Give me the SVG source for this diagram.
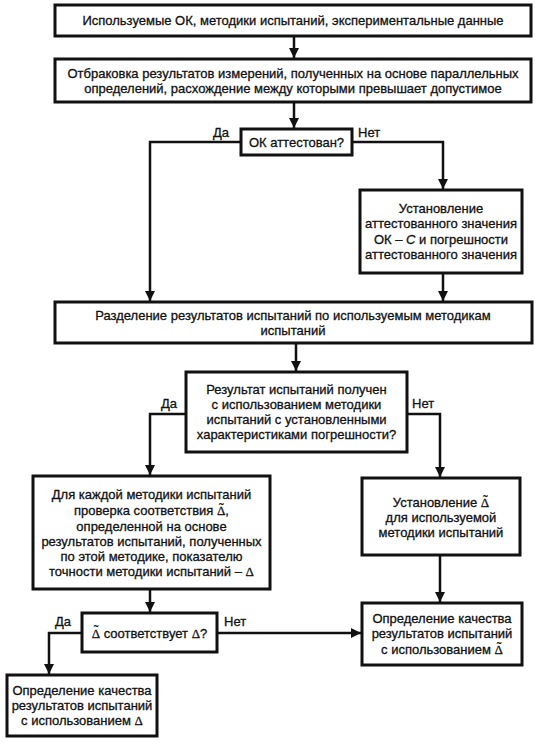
<svg xmlns="http://www.w3.org/2000/svg" width="535" height="742" viewBox="0 0 535 742">
<defs>
<style>
.box{fill:#fff;stroke:#111;stroke-width:3}
.t{font-family:"Liberation Sans",Arial,sans-serif;font-size:13px;fill:#111;stroke:#111;stroke-width:0.3;text-anchor:middle}
.lb{font-family:"Liberation Sans",Arial,sans-serif;font-size:13px;fill:#111;stroke:#111;stroke-width:0.3}
.d{font-family:"Liberation Serif","Times New Roman",serif}
.tl{font-family:"Liberation Serif","Times New Roman",serif;font-size:14px}
.c{fill:none;stroke:#111;stroke-width:2.5}
</style>
<marker id="ah" viewBox="0 0 10 10" refX="10" refY="5" markerWidth="4" markerHeight="4" orient="auto" markerUnits="strokeWidth">
<path d="M0,0 L10,5 L0,10 z" fill="#111"/>
</marker>
</defs>
<rect width="535" height="742" fill="#fff"/>
<g id="connectors">
<line class="c" x1="294" y1="36" x2="294" y2="58" marker-end="url(#ah)"/>
<line class="c" x1="294" y1="102" x2="294" y2="128" marker-end="url(#ah)"/>
<polyline class="c" points="241,142 150,142 150,301" marker-end="url(#ah)"/>
<polyline class="c" points="352,142 443,142 443,189" marker-end="url(#ah)"/>
<line class="c" x1="443" y1="273" x2="443" y2="301" marker-end="url(#ah)"/>
<line class="c" x1="296" y1="343" x2="296" y2="371" marker-end="url(#ah)"/>
<polyline class="c" points="186,414 150,414 150,475" marker-end="url(#ah)"/>
<polyline class="c" points="407,414 440,414 440,477" marker-end="url(#ah)"/>
<line class="c" x1="440" y1="555" x2="440" y2="602" marker-end="url(#ah)"/>
<line class="c" x1="150" y1="589" x2="150" y2="612" marker-end="url(#ah)"/>
<line class="c" x1="217" y1="633" x2="361" y2="633" marker-end="url(#ah)"/>
<polyline class="c" points="82,633 49,633 49,674" marker-end="url(#ah)"/>
<text class="lb" x="213" y="137">Да</text>
<text class="lb" x="358" y="137">Нет</text>
<text class="lb" x="161" y="408">Да</text>
<text class="lb" x="412" y="408">Нет</text>
<text class="lb" x="55" y="626">Да</text>
<text class="lb" x="224" y="626">Нет</text>
</g>
<g id="n1">
<rect class="box" x="55" y="5" width="476" height="31"/>
<text class="t" x="293" y="25">Используемые ОК, методики испытаний, экспериментальные данные</text>
</g>
<g id="n2">
<rect class="box" x="55" y="59" width="476" height="43"/>
<text class="t" x="293" y="77.5">Отбраковка результатов измерений,  полученных на основе параллельных</text>
<text class="t" x="293" y="92.5">определений, расхождение между которыми превышает допустимое</text>
</g>
<g id="n3">
<rect class="box" x="241" y="129" width="111" height="26"/>
<text class="t" x="296.5" y="146.5">ОК аттестован?</text>
</g>
<g id="n4">
<rect class="box" x="360" y="190" width="162" height="83"/>
<text class="t" x="441" y="212.5">Установление</text>
<text class="t" x="441" y="228">аттестованного значения</text>
<text class="t" x="441" y="243.5">ОК – <tspan font-style="italic">C</tspan> и погрешности</text>
<text class="t" x="441" y="259">аттестованного значения</text>
</g>
<g id="n5">
<rect class="box" x="55" y="302" width="477" height="41"/>
<text class="t" x="293" y="319.5">Разделение результатов испытаний по используемым методикам</text>
<text class="t" x="293" y="334.5">испытаний</text>
</g>
<g id="n6">
<rect class="box" x="186" y="372" width="221" height="80"/>
<text class="t" x="296.5" y="394">Результат испытаний получен</text>
<text class="t" x="296.5" y="409">с использованием методики</text>
<text class="t" x="296.5" y="424">испытаний с установленными</text>
<text class="t" x="296.5" y="439">характеристиками погрешности?</text>
</g>
<g id="n7">
<rect class="box" x="33" y="476" width="237" height="113"/>
<text class="t" x="151.5" y="498.5">Для каждой методики испытаний</text>
<text class="t" x="151.5" y="515">проверка соответствия <tspan class="d">Δ</tspan><tspan class="tl" dx="-6.3" dy="-2.5">˜</tspan><tspan dx="1.6" dy="2.5">,</tspan></text>
<text class="t" x="151.5" y="530.5">определенной на основе</text>
<text class="t" x="151.5" y="545.5">результатов испытаний, полученных</text>
<text class="t" x="151.5" y="560.5">по этой методике, показателю</text>
<text class="t" x="151.5" y="576">точности методики испытаний – <tspan class="d">Δ</tspan></text>
</g>
<g id="n8">
<rect class="box" x="362" y="478" width="158" height="77"/>
<text class="t" x="441" y="507">Установление <tspan class="d">Δ</tspan><tspan class="tl" dx="-6.3" dy="-2.5">˜</tspan></text>
<text class="t" x="441" y="522">для используемой</text>
<text class="t" x="441" y="537">методики испытаний</text>
</g>
<g id="n9">
<rect class="box" x="82" y="613" width="135" height="39"/>
<text class="t" x="149.5" y="637.5"><tspan class="d">Δ</tspan><tspan class="tl" dx="-6.3" dy="-2.5">˜</tspan><tspan dx="1.6" dy="2.5"> соответствует </tspan><tspan class="d">Δ</tspan>?</text>
</g>
<g id="n10">
<rect class="box" x="362" y="603" width="160" height="62"/>
<text class="t" x="442" y="622.5">Определение качества</text>
<text class="t" x="442" y="637.5">результатов испытаний</text>
<text class="t" x="442" y="654">с использованием <tspan class="d">Δ</tspan><tspan class="tl" dx="-6.3" dy="-2.5">˜</tspan></text>
</g>
<g id="n11">
<rect class="box" x="7" y="675" width="150" height="61"/>
<text class="t" x="82" y="695">Определение качества</text>
<text class="t" x="82" y="710">результатов испытаний</text>
<text class="t" x="82" y="725">с использованием <tspan class="d">Δ</tspan></text>
</g>
</svg>
